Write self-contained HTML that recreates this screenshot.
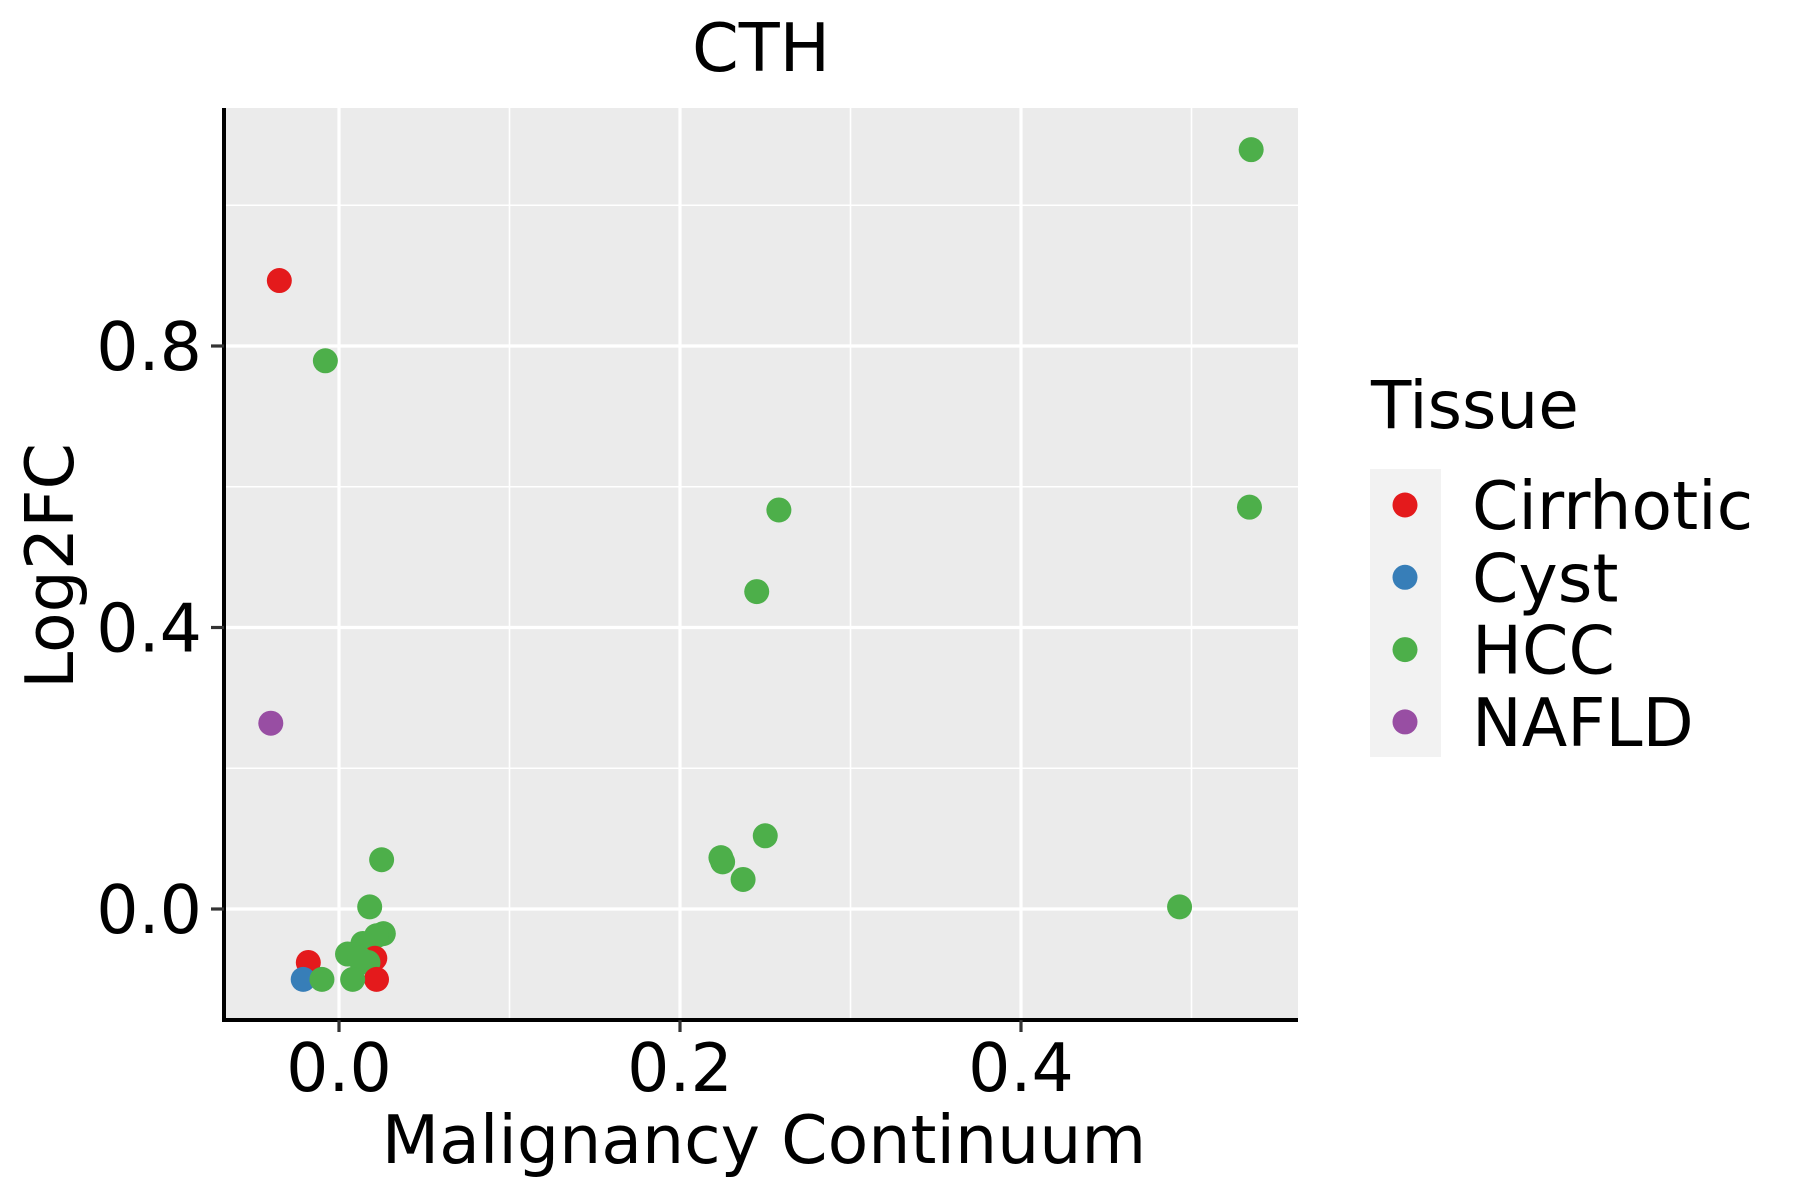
<!DOCTYPE html>
<html><head><meta charset="utf-8"><style>
html,body{margin:0;padding:0;background:#fff;}
svg{display:block;font-family:"DejaVu Sans","Liberation Sans",sans-serif;}
</style></head><body>
<svg id="chart" width="1800" height="1200" viewBox="0 0 1800 1200">
<rect x="0" y="0" width="1800" height="1200" fill="#fff"/>
<text x="761" y="71" font-size="67" text-anchor="middle">CTH</text>
<rect x="224" y="108" width="1074" height="912" fill="#EBEBEB"/>
<g id="grid"></g>
<g id="points"></g>
<line x1="224" y1="108" x2="224" y2="1022" stroke="#000" stroke-width="4"/>
<line x1="222" y1="1020" x2="1298" y2="1020" stroke="#000" stroke-width="4"/>
<g id="ticks"></g>
<text x="764" y="1163" font-size="66.5" text-anchor="middle">Malignancy Continuum</text>
<text x="0" y="0" font-size="66.5" text-anchor="middle" transform="translate(73,566) rotate(-90)">Log2FC</text>
<text x="1371" y="428" font-size="66">Tissue</text>
<rect x="1370" y="469" width="71" height="288" fill="#F2F2F2"/>
<g id="legend"></g>
</svg>
<script>
const categories = ["Cirrhotic","Cyst","HCC","NAFLD"];
const colors = ["#E41A1C","#377EB8","#4DAF4A","#984EA3"];
const xTicks = [0.0, 0.2, 0.4];
const xTickLabels = ["0.0","0.2","0.4"];
const yTicks = [0.0, 0.4, 0.8];
const yTickLabels = ["0.0","0.4","0.8"];
const pointGroup = [2,0,2,2,2,2,3,2,2,2,2,2,2,2,2,2,2,2,0,2,2,0,2,0,1,2];
const pointX = [0.535,-0.035,-0.008,0.258,0.534,0.245,-0.040,0.250,0.224,0.225,0.237,0.493,0.025,0.018,0.026,0.022,0.014,0.005,0.021,0.017,0.012,0.022,0.008,-0.018,-0.021,-0.010];
const pointY = [1.079,0.893,0.779,0.567,0.571,0.451,0.264,0.104,0.073,0.067,0.042,0.003,0.070,0.003,-0.035,-0.038,-0.049,-0.064,-0.070,-0.076,-0.070,-0.100,-0.100,-0.076,-0.100,-0.100];

const NS = "http://www.w3.org/2000/svg";
const xs = v => 339 + (v - 0) * 1705;
const ys = v => 909 - v * 703.75;
const grid = document.getElementById('grid');
const ticks = document.getElementById('ticks');
function mk(tag, attrs, parent){ const e=document.createElementNS(NS,tag); for(const k in attrs) e.setAttribute(k,attrs[k]); parent.appendChild(e); return e; }
[-0.1,0.1,0.3,0.5].forEach(v=>{ const l=mk('line',{x1:xs(v),x2:xs(v),y1:108,y2:1020,stroke:'#fff','stroke-width':1.6},grid);

});
[0.2,0.6,1.0].forEach(v=>{ const l=mk('line',{x1:224,x2:1298,y1:ys(v),y2:ys(v),stroke:'#fff','stroke-width':1.6},grid);

});
xTicks.forEach((v,i)=>{ const l=mk('line',{x1:xs(v),x2:xs(v),y1:108,y2:1020,stroke:'#fff','stroke-width':3.2},grid);


const t=mk('line',{x1:xs(v),x2:xs(v),y1:1020,y2:1032,stroke:'#333','stroke-width':3.2},ticks);


const tx=mk('text',{x:xs(v),y:1091,'font-size':66.5,'text-anchor':'middle'},ticks); tx.textContent=xTickLabels[i];

});
yTicks.forEach((v,i)=>{ const l=mk('line',{x1:224,x2:1298,y1:ys(v),y2:ys(v),stroke:'#fff','stroke-width':3.2},grid);


const t=mk('line',{x1:211,x2:224,y1:ys(v),y2:ys(v),stroke:'#333','stroke-width':3.2},ticks);


const tx=mk('text',{x:202,y:ys(v)+24,'font-size':66.5,'text-anchor':'end'},ticks); tx.textContent=yTickLabels[i];

});
const pts=document.getElementById('points');
pointX.forEach((v,i)=>{ const c=mk('circle',{cx:xs(v),cy:ys(pointY[i]),r:12.5,fill:colors[pointGroup[i]]},pts);

});
const lg=document.getElementById('legend');
categories.forEach((c,i)=>{ const y=505+i*72.3;
const d=mk('circle',{cx:1405,cy:y,r:12.5,fill:colors[i]},lg);


const t=mk('text',{x:1472,y:y+24,'font-size':66.5},lg); t.textContent=c;

});
</script>
</body></html>
